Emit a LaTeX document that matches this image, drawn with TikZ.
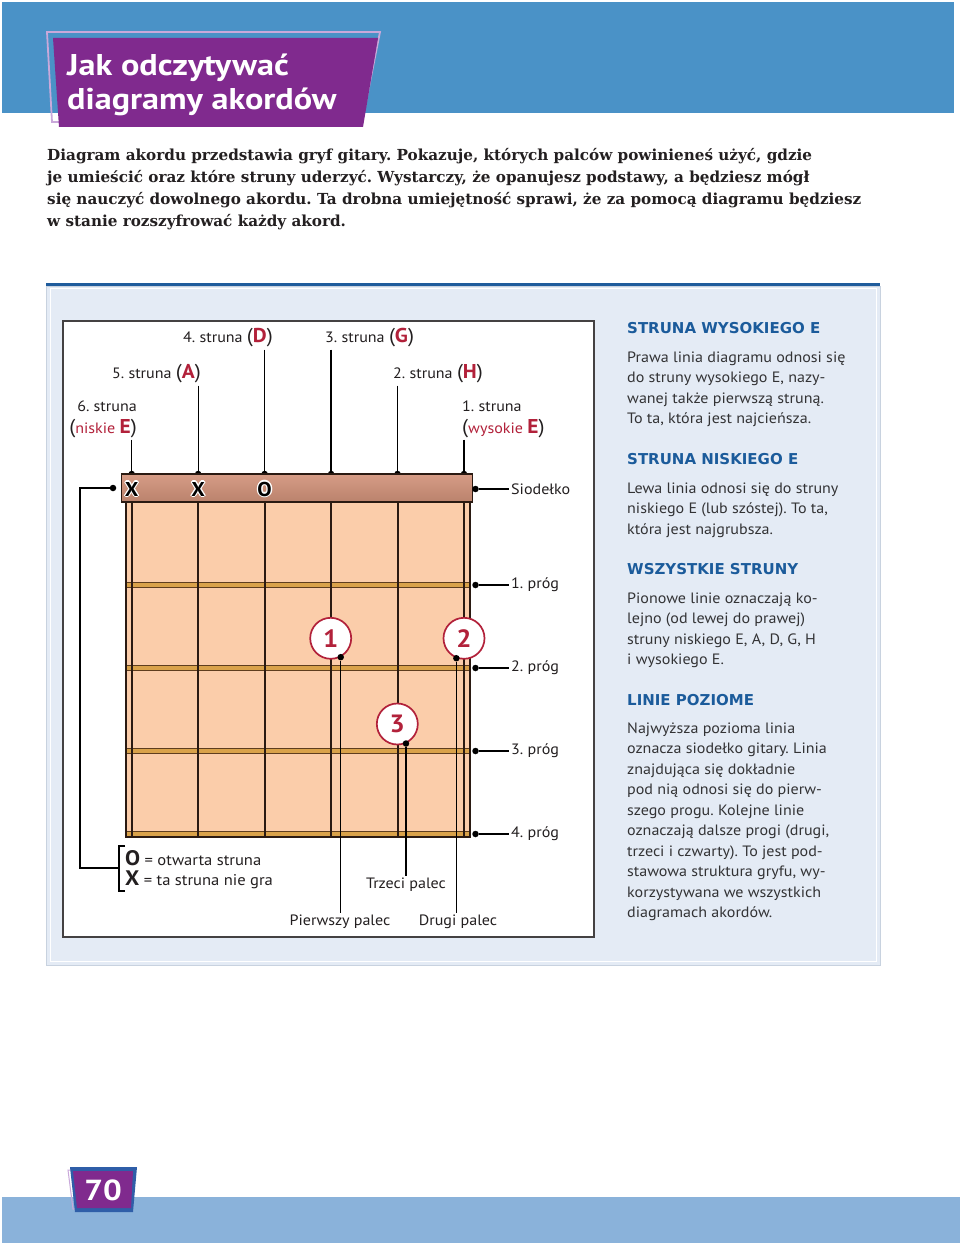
\documentclass[tikz,border=0pt]{standalone}
\usepackage{fontspec}
\setmainfont{PT Sans}[FakeStretch=1.07]
\newfontfamily\titlefont{PT Sans}[FakeStretch=1.14]
\newfontfamily\headfont{DejaVu Sans}
\newfontfamily\introfont{DejaVu Serif}
\frenchspacing
\usetikzlibrary{positioning,calc}
\definecolor{cBand}{HTML}{4A92C7}
\definecolor{cBandLo}{HTML}{8AB2DA}
\definecolor{cPurple}{HTML}{802A8E}
\definecolor{cLilac}{HTML}{C9A8DA}
\definecolor{cNavy}{HTML}{2F5EA8}
\definecolor{cPanel}{HTML}{E4EBF5}
\definecolor{cPanelLine}{HTML}{1F5C9C}
\definecolor{cPanelEdge}{HTML}{C8D2DF}
\definecolor{cHead}{HTML}{1B5B9B}
\definecolor{cInk}{HTML}{231F20}
\definecolor{cBody}{HTML}{333335}
\definecolor{cRed}{HTML}{B2213A}
\definecolor{cWood}{HTML}{FBCDAA}
\definecolor{cNutT}{HTML}{D69C86}
\definecolor{cNutL}{HTML}{E2AC96}
\definecolor{cNutD}{HTML}{BA826C}
\definecolor{cFret}{HTML}{D9A24A}
\definecolor{cFretD}{HTML}{5E3D1E}
\definecolor{cStr}{HTML}{2A1A12}
\newcommand\bigpar[1]{{\fontsize{20}{20}\selectfont#1}}
\newcommand\redL[1]{\textcolor{cRed}{\bfseries\fontsize{20}{20}\selectfont#1}}
\tikzset{
  lbl/.style={font=\fontsize{15}{22}\selectfont,text=cInk,inner sep=2pt},
  lead/.style={draw=black,line width=1.3pt},
  dotm/.style={circle,fill=black,inner sep=0pt,minimum size=6.5pt},
  fingr/.style={circle,draw=cRed,line width=1.7pt,fill=white,minimum size=41pt,inner sep=0pt,font=\bfseries\fontsize{25}{25}\selectfont,text=cRed},
  colhead/.style={font=\headfont\bfseries\fontsize{15}{20}\selectfont,text=cHead,inner sep=0pt,anchor=base west},
  colbody/.style={font=\fontsize{15}{20.5}\selectfont,text=cBody,inner sep=0pt,align=left,anchor=base west},
  introline/.style={font=\introfont\bfseries\fontsize{15.2}{22}\selectfont,text=cInk,inner sep=0pt,anchor=base west},
  nutmark/.style={font=\bfseries\fontsize{20}{20}\selectfont,inner sep=0pt},
}
\begin{document}
\begin{tikzpicture}[x=1pt,y=-1pt]
  \useasboundingbox (0,0) rectangle (960,1246);
  \fill[white] (0,0) rectangle (960,1246);
  \fill[cBand] (2,2) rectangle (954,113);
  \draw[cLilac,line width=1.8pt] (47,32) -- (380,32) -- (362,122) -- (52,122) -- cycle;
  \fill[cPurple] (53,38) -- (378,38) -- (363,127) -- (59,127) -- cycle;
  \node[font=\titlefont\bfseries\fontsize{30}{34}\selectfont,text=white,align=left,anchor=base west,inner sep=0pt] (title) at (67,110) {Jak odczytywać\\diagramy akordów};
  \foreach \txt [count=\i] in {{Diagram akordu przedstawia gryf gitary. Pokazuje, których palców powinieneś użyć, gdzie},{je umieścić oraz które struny uderzyć. Wystarczy, że opanujesz podstawy, a będziesz mógł},{się nauczyć dowolnego akordu. Ta drobna umiejętność sprawi, że za pomocą diagramu będziesz},{w stanie rozszyfrować każdy akord.}}
    \node[introline] (intro\i) at (47,{139+22*\i}) {\txt};
  \fill[cPanelLine] (46,283) rectangle (880,286);
  \draw[cPanelEdge,fill=cPanel] (46,286) rectangle (880,965);
  \draw[white,line width=1pt] (50,289) rectangle (876,961);
  \draw[cInk!85,line width=1.4pt,fill=white] (63,321) rectangle (594,937);
  \fill[cWood] (126,502) rectangle (470,837);
  \foreach \y in {585,668,751,834} {
    \draw[cFretD,line width=6.5pt] (126,\y) -- (470,\y);
    \draw[cFret,line width=3.5pt] (126,\y) -- (470,\y);
  }
  \draw[cStr,line width=1.3pt] (126,502) -- (126,837) -- (470,837) -- (470,502);
  \foreach \n in {1,...,6} {
    \draw[cStr,line width=2pt] ({131.7+(6-\n)*66.46},502) -- ++(0,335);
    \node[dotm] (t\n) at ({131.7+(6-\n)*66.46},474) {};
  }
  \shadedraw[top color=cNutT,middle color=cNutL,bottom color=cNutD,draw=cStr,line width=1.5pt] (121.5,474) rectangle (472.5,502);
  \foreach \n/\m in {6/X,5/X,4/O} {
    \foreach \a in {0,45,...,315}
      \node[nutmark,text=white] at ($(t\n)+(0,15)+(\a:1.3)$) {\m};
    \node[nutmark,text=black] (m\n) at ($(t\n)+(0,15)$) {\m};
  }
  \node[lbl,anchor=east] (l4) at (275,338) {4. struna \bigpar{(}\redL{D}\bigpar{)}};
  \node[lbl,anchor=west] (l3) at (323,338) {3. struna \bigpar{(}\redL{G}\bigpar{)}};
  \node[lbl,anchor=east] (l5) at (203,374) {5. struna \bigpar{(}\redL{A}\bigpar{)}};
  \node[lbl,anchor=west] (l2) at (391,374) {2. struna \bigpar{(}\redL{H}\bigpar{)}};
  \node[lbl,anchor=east,align=right] (l6) at (139,419) {6. struna\\\bigpar{(}\textcolor{cRed}{niskie} \redL{E}\bigpar{)}};
  \node[lbl,anchor=west,align=left] (l1) at (460,419) {1. struna\\\bigpar{(}\textcolor{cRed}{wysokie} \redL{E}\bigpar{)}};
  \foreach \n in {1,...,6} \draw[lead] (l\n.south -| t\n) -- (t\n);
  \node[dotm] (sd) at (475.5,489) {};
  \node[lbl,anchor=west] (sdl) at (509,489) {Siodełko};
  \draw[lead] (sd) -- (sdl.west);
  \foreach \y [count=\i] in {585,668,751,834} {
    \node[dotm] (fd\i) at (475.5,\y) {};
    \node[lbl,anchor=west] (fl\i) at (509,\y) {\i. próg};
    \draw[lead] (fd\i) -- (fl\i.west);
  }
  \node[fingr] (c1) at (330.7,638.3) {1};
  \node[fingr] (c2) at (464,638.3) {2};
  \node[fingr] (c3) at (397.3,724) {3};
  \node[dotm] (d1) at (c1.-62) {};
  \node[dotm] (d2) at (c2.-111) {};
  \node[dotm] (d3) at (c3.-66) {};
  \node[lbl] (p1) at (340,922) {Pierwszy palec};
  \node[lbl] (p2) at (458,922) {Drugi palec};
  \node[lbl] (p3) at (406,885) {Trzeci palec};
  \foreach \n in {1,2,3} \draw[lead] (d\n) -- (p\n.north -| d\n);
  \node[dotm] (xo) at (113,488) {};
  \node[lbl,anchor=west,font=\fontsize{15.5}{22}\selectfont] (lgo) at (123,858) {{\bfseries\fontsize{21}{21}\selectfont O} = otwarta struna};
  \node[lbl,anchor=west,font=\fontsize{15.5}{22}\selectfont] (lgx) at (123,880) {{\bfseries\fontsize{21}{21}\selectfont X} = ta struna nie gra};
  \draw[lead] (125,846) -- (119,846) -- (119,891) -- (125,891);
  \coordinate (brk) at (119,868);
  \draw[lead] (xo) -| (80,868) -- (brk);
  \node[colhead] (h1) at (627,333) {STRUNA WYSOKIEGO E};
  \node[colbody] (b1) at (627,423.5) {Prawa linia diagramu odnosi się\\do struny wysokiego E, nazy-\\wanej także pierwszą struną.\\To ta, która jest najcieńsza.};
  \node[colhead] (h2) at (627,464) {STRUNA NISKIEGO E};
  \node[colbody] (b2) at (627,534) {Lewa linia odnosi się do struny\\niskiego E (lub szóstej). To ta,\\która jest najgrubsza.};
  \node[colhead] (h3) at (627,574) {WSZYSTKIE STRUNY};
  \node[colbody] (b3) at (627,664.5) {Pionowe linie oznaczają ko-\\lejno (od lewej do prawej)\\struny niskiego E, A, D, G, H\\i wysokiego E.};
  \node[colhead] (h4) at (627,705) {LINIE POZIOME};
  \node[colbody] (b4) at (627,917.5) {Najwyższa pozioma linia\\oznacza siodełko gitary. Linia\\znajdująca się dokładnie\\pod nią odnosi się do pierw-\\szego progu. Kolejne linie\\oznaczają dalsze progi (drugi,\\trzeci i czwarty). To jest pod-\\stawowa struktura gryfu, wy-\\korzystywana we wszystkich\\diagramach akordów.};
  \fill[cBandLo] (2,1197) rectangle (960,1243);
  \draw[cLilac,line width=1pt] (68,1170) -- (134,1170) -- (131,1209) -- (73,1209) -- cycle;
  \fill[cNavy] (70,1167) -- (137,1167) -- (133,1212) -- (75,1212) -- cycle;
  \fill[cPurple] (73,1171) -- (133,1171) -- (131,1208) -- (77,1208) -- cycle;
  \node[font=\titlefont\bfseries\fontsize{29}{29}\selectfont,text=white,inner sep=0pt] (pg) at (103,1190) {70};
\end{tikzpicture}
\end{document}
